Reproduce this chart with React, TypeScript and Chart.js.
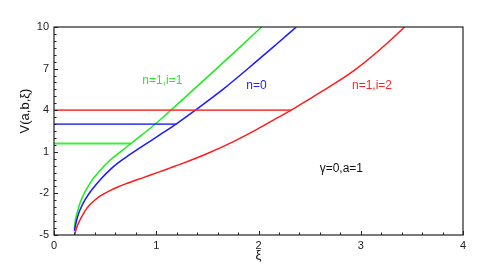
import React, { useEffect, useRef } from "react";
import { Chart, registerables } from "chart.js";

Chart.register(...registerables);

// Curve n=1,i=1 (green)
const xiGreen = [0.198, 0.21, 0.23, 0.254, 0.3, 0.35, 0.384, 0.45, 0.547, 0.65, 0.753, 0.856, 1.0, 1.135, 1.3, 1.59, 1.8, 2.03];
const vGreen = [-4.55, -3.9, -3.3, -2.71, -1.93, -1.3, -0.93, -0.34, 0.39, 1.0, 1.6, 2.2, 3.06, 3.95, 5.05, 7.0, 8.42, 10];
// Curve n=0 (blue)
const xiBlue = [0.2, 0.21, 0.23, 0.254, 0.3, 0.35, 0.384, 0.45, 0.547, 0.63, 0.71, 0.873, 1.034, 1.197, 1.376, 1.652, 1.977, 2.17, 2.37];
const vBlue = [-4.7, -4.3, -3.7, -3.2, -2.51, -1.935, -1.61, -1.03, -0.3, 0.215, 0.64, 1.44, 2.22, 3.02, 3.97, 5.5, 7.5, 8.72, 10];
// Curve n=1,i=2 (red)
const xiRed = [0.196, 0.21, 0.23, 0.254, 0.285, 0.319, 0.35, 0.384, 0.45, 0.547, 0.63, 0.71, 0.873, 1.03, 1.13, 1.27, 1.5, 1.75, 1.98, 2.15, 2.32, 2.53, 2.75, 2.95, 3.2, 3.43];
const vRed = [-5.3, -4.75, -4.3, -3.92, -3.5, -3.1, -2.82, -2.58, -2.2, -1.8, -1.52, -1.29, -0.86, -0.45, -0.18, 0.2, 0.88, 1.72, 2.6, 3.3, 4.0, 4.95, 5.95, 6.95, 8.45, 10];

// Horizontal level lines
const levelGreen = { xi: [0, 0.753], v: 1.6 };
const levelBlue = { xi: [0, 1.197], v: 3.0 };
const levelRed = { xi: [0, 2.32], v: 4.0 };

// Axis ticks
const xTicks = [0, 1, 2, 3, 4];
const yTicks = [-5, -2, 1, 4, 7, 10];

// Annotations (data coordinates)
const annotations = [
  { text: "n=1,i=1", xi: 1.06, v: 6.15, color: "#22ee22" },
  { text: "n=0", xi: 1.98, v: 5.8, color: "#2222ff" },
  { text: "n=1,i=2", xi: 3.11, v: 5.8, color: "#ff2222" },
  { text: "γ=0,a=1", xi: 2.81, v: -0.19, color: "#111111" },
];

const FONT = "'Liberation Sans', Arial, Helvetica, sans-serif";

function toPts(xs: number[], ys: number[]) {
  return xs.map((x, i) => ({ x, y: ys[i] }));
}

const decorPlugin = {
  id: "decor",
  afterDraw(chart: any) {
    const { ctx, chartArea, scales } = chart;
    const xs = scales.x;
    const ys = scales.y;
    ctx.save();
    ctx.strokeStyle = "#222";
    ctx.lineWidth = 1.2;
    ctx.strokeRect(chartArea.left, chartArea.top, chartArea.right - chartArea.left, chartArea.bottom - chartArea.top);
    ctx.lineWidth = 1;
    for (let i = 0; i <= 20; i++) {
      const val = i * 0.2;
      const px = Math.round(xs.getPixelForValue(val)) + 0.5;
      const major = i % 5 === 0;
      ctx.beginPath();
      ctx.moveTo(px, chartArea.bottom);
      ctx.lineTo(px, chartArea.bottom - (major ? 4 : 2.5));
      ctx.stroke();
    }
    for (let i = 0; i <= 30; i++) {
      const val = -5 + i * 0.5;
      const py = Math.round(ys.getPixelForValue(val)) + 0.5;
      const major = i % 6 === 0;
      ctx.beginPath();
      ctx.moveTo(chartArea.left, py);
      ctx.lineTo(chartArea.left + (major ? 4 : 2.5), py);
      ctx.stroke();
    }
    ctx.font = `12px ${FONT}`;
    ctx.textAlign = "center";
    ctx.textBaseline = "middle";
    for (const a of annotations) {
      ctx.fillStyle = a.color;
      ctx.fillText(a.text, xs.getPixelForValue(a.xi), ys.getPixelForValue(a.v));
    }
    ctx.fillStyle = "#111";
    ctx.font = `13px ${FONT}`;
    ctx.fillText("ξ", (chartArea.left + chartArea.right) / 2, 255);
    ctx.translate(25, 111);
    ctx.rotate(-Math.PI / 2);
    ctx.fillText("V(a,b,ξ)", 0, 0);
    ctx.restore();
  },
};

export default function App() {
  const ref = useRef<HTMLCanvasElement | null>(null);
  useEffect(() => {
    if (!ref.current) return;
    const lineDs = (label: string, data: any[], color: string, width = 1.5) => ({
      label,
      data,
      borderColor: color,
      backgroundColor: color,
      borderWidth: width,
      showLine: true,
      pointRadius: 0,
      cubicInterpolationMode: "monotone" as const,
    });
    const chart = new Chart(ref.current, {
      type: "scatter",
      data: {
        datasets: [
          lineDs("level red", toPts(levelRed.xi, levelRed.xi.map(() => levelRed.v)), "rgba(255,40,40,0.85)", 1.8),
          lineDs("level blue", toPts(levelBlue.xi, levelBlue.xi.map(() => levelBlue.v)), "rgba(40,40,255,0.85)", 1.8),
          lineDs("level green", toPts(levelGreen.xi, levelGreen.xi.map(() => levelGreen.v)), "rgba(30,230,30,0.85)", 1.8),
          lineDs("n=1,i=2", toPts(xiRed, vRed), "#ff1a1a"),
          lineDs("n=0", toPts(xiBlue, vBlue), "#1a1aff"),
          lineDs("n=1,i=1", toPts(xiGreen, vGreen), "#1aee1a"),
        ],
      },
      options: {
        responsive: false,
        animation: false,
        layout: { padding: { top: 27, right: 28, left: 0, bottom: 0 } },
        plugins: { legend: { display: false }, tooltip: { enabled: false } },
        scales: {
          x: {
            type: "linear",
            min: 0,
            max: 4,
            afterBuildTicks: (s: any) => {
              s.ticks = xTicks.map((v) => ({ value: v }));
            },
            afterFit: (s: any) => {
              s.height = 36;
            },
            grid: { display: false, drawTicks: false },
            border: { display: false },
            ticks: { padding: 4, color: "#222", font: { size: 11, family: FONT }, maxRotation: 0 },
          },
          y: {
            type: "linear",
            min: -5,
            max: 10,
            afterBuildTicks: (s: any) => {
              s.ticks = yTicks.map((v) => ({ value: v }));
            },
            afterFit: (s: any) => {
              s.width = 54;
            },
            grid: { display: false, drawTicks: false },
            border: { display: false },
            ticks: { padding: 5, color: "#222", font: { size: 11, family: FONT } },
          },
        },
      },
      plugins: [decorPlugin],
    });
    return () => chart.destroy();
  }, []);
  return (
    <div style={{ position: "fixed", left: 0, top: 0, width: 491, height: 271, background: "#fff" }}>
      <canvas ref={ref} width={491} height={271} />
    </div>
  );
}
